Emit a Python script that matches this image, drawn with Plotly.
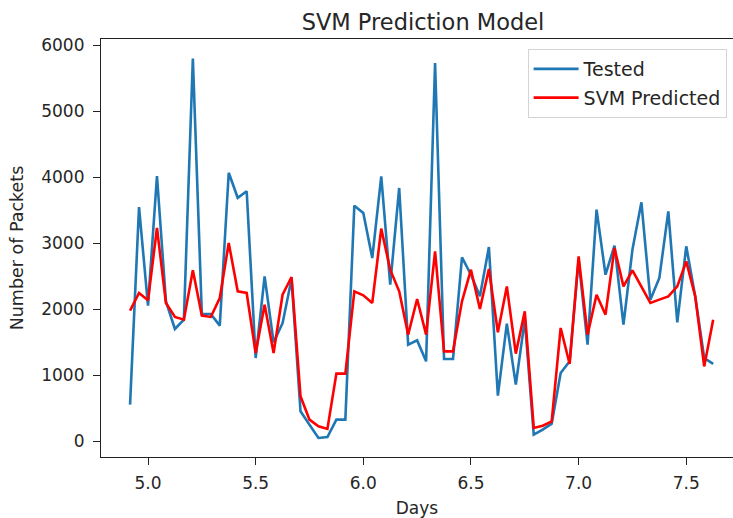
import plotly.graph_objects as go

# Hourly samples, expressed in days
hours = list(range(118, 184))
days = [h / 24 for h in hours]

tested = [556, 3550, 2056, 4020, 2120, 1703, 1844, 5800, 1930, 1930,
          1753, 4070, 3690, 3790, 1263, 2500, 1500, 1790, 2460, 455,
          253, 51, 66, 329, 329, 3571, 3460, 2778, 4015, 2374,
          3839, 1465, 1530, 1212, 5733, 1248, 1248, 2788, 2525, 2197,
          2945, 692, 1783, 859, 1844, 101, 177, 268, 1036, 1212,
          2753, 1465, 3511, 2525, 2965, 1768, 2905, 3621, 2147, 2476,
          3485, 1803, 2955, 2197, 1263, 1173]

svm_predicted = [1980, 2248, 2136, 3233, 2097, 1885, 1844, 2591, 1905, 1885,
                 2172, 3006, 2273, 2248, 1339, 2071, 1339, 2222, 2490, 682,
                 329, 227, 188, 1026, 1026, 2273, 2212, 2097, 3223, 2601,
                 2273, 1617, 2157, 1617, 2879, 1364, 1364, 2121, 2601, 2006,
                 2612, 1652, 2348, 1329, 1970, 203, 238, 303, 1718, 1173,
                 2803, 1617, 2222, 1919, 2929, 2348, 2591, 2348, 2097, 2147,
                 2197, 2348, 2727, 2197, 1136, 1844]

x_ticks = [5.0, 5.5, 6.0, 6.5, 7.0, 7.5]
y_ticks = [0, 1000, 2000, 3000, 4000, 5000, 6000]

FONT = "DejaVu Sans"
TXT = "#262626"

fig = go.Figure()
fig.add_trace(go.Scatter(x=days, y=tested, mode="lines", name="Tested",
                         legendgroup="a",
                         line=dict(color="#1f77b4", width=2.6)))
fig.add_trace(go.Scatter(x=days, y=svm_predicted, mode="lines", name="SVM Predicted",
                         legendgroup="b",
                         line=dict(color="#ff0000", width=2.6)))

fig.update_layout(
    width=733, height=518,
    margin=dict(l=101, r=0, t=39, b=61),
    paper_bgcolor="white", plot_bgcolor="white",
    font=dict(family=FONT, size=17, color=TXT),
    title=dict(text="SVM Prediction Model", x=0.5095, xref="paper",
               y=0.958, yanchor="middle", font=dict(size=22.5, color=TXT)),
    showlegend=True,
    legend=dict(x=0.675, y=0.976, xanchor="left", yanchor="top",
                bgcolor="rgba(255,255,255,0.8)", bordercolor="#d4d4d4",
                borderwidth=1, font=dict(size=19, color=TXT),
                itemwidth=45, tracegroupgap=1),
)

fig.update_xaxes(
    range=[4.7817, 7.7171], tickvals=x_ticks,
    ticktext=[f"{v:.1f}" for v in x_ticks],
    showgrid=False, zeroline=False,
    showline=True, linecolor="#222", linewidth=1.2, mirror=True,
    ticks="outside", ticklen=7, tickcolor="#222", tickwidth=1.2,
    ticklabelstandoff=3,
    title=dict(text="Days", standoff=12, font=dict(size=17, color=TXT)),
)
fig.update_yaxes(
    range=[-237, 6096], tickvals=y_ticks,
    showgrid=False, zeroline=False,
    showline=True, linecolor="#222", linewidth=1.2, mirror=False,
    ticks="outside", ticklen=7, tickcolor="#222", tickwidth=1.2,
    ticklabelstandoff=5,
    title=dict(text="Number of Packets", standoff=13, font=dict(size=17.5, color=TXT)),
)

fig.write_html("out.html")
